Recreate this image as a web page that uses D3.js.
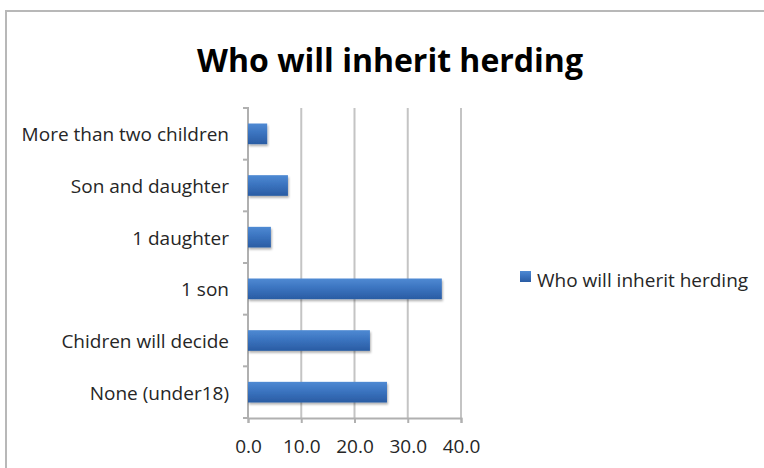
<!DOCTYPE html>
<html>
<head>
<meta charset="utf-8">
<script src="https://cdn.jsdelivr.net/npm/d3@7"></script>
<style>
  body { margin: 0; background: #fff; }
  text { font-family: "Open Sans", "Noto Sans", sans-serif; }
</style>
</head>
<body>
<div id="chart"></div>
<script>
var categories = ["More than two children", "Son and daughter", "1 daughter", "1 son", "Chidren will decide", "None (under18)"]
var values = [3.6, 7.5, 4.3, 36.4, 22.9, 26.1]
var ticks = [0, 10, 20, 30, 40]
var seriesName = "Who will inherit herding"

var width = 764,
    height = 468

var svg = d3.select("#chart")
  .append("svg")
    .attr("width", width)
    .attr("height", height)

// frame
svg.append("rect")
  .attr("x", 6).attr("y", 11)
  .attr("width", width + 10).attr("height", height + 10)
  .attr("fill", "white")
  .attr("stroke", "#b8b8b8")
  .attr("stroke-width", 2)

var defs = svg.append("defs")
var grad = defs.append("linearGradient")
  .attr("id", "barGrad")
  .attr("x1", 0).attr("y1", 0).attr("x2", 0).attr("y2", 1)
grad.append("stop").attr("offset", "0%").attr("stop-color", "#4f8ad3")
grad.append("stop").attr("offset", "45%").attr("stop-color", "#3b74c0")
grad.append("stop").attr("offset", "100%").attr("stop-color", "#2a5ca3")

var shadow = defs.append("filter").attr("id", "shadow")
  .attr("x", "-5%").attr("y", "-20%").attr("width", "115%").attr("height", "160%")
shadow.append("feDropShadow")
  .attr("dx", 1).attr("dy", 2).attr("stdDeviation", 1.2)
  .attr("flood-color", "#000").attr("flood-opacity", 0.3)

svg.append("text")
  .attr("x", 390).attr("y", 72)
  .attr("text-anchor", "middle")
  .attr("font-size", 32)
  .attr("font-weight", "bold")
  .attr("fill", "#000")
  .text(seriesName)

var x = d3.scaleLinear().domain([0, 40]).range([248, 461])
var y = d3.scaleBand().domain(categories).range([108, 418]).paddingInner(0.6).paddingOuter(0.3)

var g = svg.append("g")

// gridlines
g.selectAll(".grid")
  .data(ticks.slice(1))
  .enter().append("line")
    .attr("x1", function(d) { return x(d) })
    .attr("x2", function(d) { return x(d) })
    .attr("y1", 108).attr("y2", 418)
    .attr("stroke", "#c4c4c4")
    .attr("stroke-width", 2)

// x axis
var xAxis = g.append("g")
  .attr("transform", "translate(0,418)")
  .call(d3.axisBottom(x).tickValues(ticks).tickSize(5).tickFormat(d3.format(".1f")))
xAxis.select(".domain").attr("stroke", "#b0b0b0").attr("stroke-width", 2)
xAxis.selectAll(".tick line").attr("stroke", "#b0b0b0").attr("stroke-width", 2)
xAxis.selectAll("text")
  .attr("font-size", 19).attr("fill", "#262626").attr("y", 0).attr("dy", 0)
  .attr("transform", "translate(0,35)")

// y axis line with boundary ticks
g.append("line")
  .attr("x1", 248).attr("x2", 248).attr("y1", 107).attr("y2", 419)
  .attr("stroke", "#b0b0b0").attr("stroke-width", 2)

var bounds = d3.range(categories.length + 1).map(function(i) { return 108 + (418 - 108) * i / categories.length })
g.selectAll(".ytick")
  .data(bounds)
  .enter().append("line")
    .attr("x1", 243).attr("x2", 248)
    .attr("y1", function(d) { return d }).attr("y2", function(d) { return d })
    .attr("stroke", "#b0b0b0").attr("stroke-width", 2)

g.selectAll(".ylabel")
  .data(categories)
  .enter().append("text")
    .attr("x", 229)
    .attr("y", function(d) { return y(d) + y.bandwidth() / 2 })
    .attr("dy", "0.4em")
    .attr("text-anchor", "end")
    .attr("font-size", 19)
    .attr("fill", "#262626")
    .text(function(d) { return d })

// bars
g.selectAll(".bar")
  .data(values)
  .enter().append("rect")
    .attr("x", x(0))
    .attr("y", function(d, i) { return y(categories[i]) })
    .attr("width", function(d) { return x(d) - x(0) })
    .attr("height", y.bandwidth())
    .attr("fill", "url(#barGrad)")
    .attr("filter", "url(#shadow)")

// legend
var legend = svg.append("g").attr("transform", "translate(520,271)")
legend.append("rect")
  .attr("width", 11).attr("height", 11)
  .attr("fill", "url(#barGrad)")
legend.append("text")
  .attr("x", 17).attr("y", 9)
  .attr("dy", "0.35em")
  .attr("font-size", 19)
  .attr("fill", "#262626")
  .text(seriesName)
</script>
</body>
</html>
